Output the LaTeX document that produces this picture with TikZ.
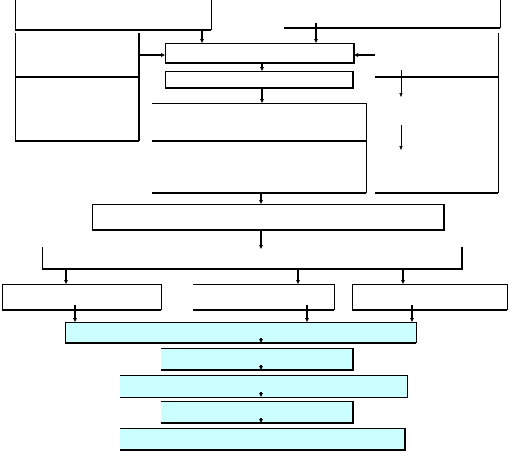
\documentclass[tikz,border=0pt]{standalone}
\usetikzlibrary{arrows.meta, fit}

\definecolor{paleCyan}{RGB}{204,255,255}

\tikzset{
  panel/.style={inner sep=0pt, outer sep=0pt},
  cyanpanel/.style={panel, fill=paleCyan},
  edge/.style={line width=0.6pt},
  heavy/.style={line width=1.5pt},
  arr/.style={line width=1.2pt, -{Triangle[length=4pt,width=3.5pt]}},
  thinarr/.style={line width=0.4pt, -{Triangle[length=4pt,width=3pt]}}
}

\begin{document}
\begin{tikzpicture}[x=1pt,y=-1pt]
\useasboundingbox (0,0) rectangle (509,451);

% upper part
\node [panel, fit={(15,-2) (211,30)}]   (tl) {};
\node [panel, fit={(284,-2) (500,28)}]  (tr) {};
\node [panel, fit={(15,33) (139,77)}]   (la) {};
\node [panel, fit={(15,77) (139,141)}]  (lb) {};
\node [panel, fit={(165,43) (354,63)}]  (A) {};
\node [panel, fit={(165,71) (353,88)}]  (B) {};
\node [panel, fit={(152,103) (366,141)}] (C1) {};
\node [panel, fit={(152,141) (366,193)}] (C2) {};
\node [panel, fit={(375,33) (498,77)}]  (D1) {};
\node [panel, fit={(375,77) (498,193)}] (D2) {};
\node [panel, fit={(92,204) (444,230)}] (E) {};
\node [panel, fit={(42,247) (462,269)}] (F) {};
\node [panel, fit={(2,284) (161,310)}]  (G1) {};
\node [panel, fit={(193,284) (334,310)}] (G2) {};
\node [panel, fit={(352,284) (507,310)}] (G3) {};

% lower part
\node [cyanpanel, fit={(65,322) (416,343)}]  (H) {};
\node [cyanpanel, fit={(161,348) (353,370)}] (I) {};
\node [cyanpanel, fit={(120,375) (407,397)}] (J) {};
\node [cyanpanel, fit={(161,401) (353,423)}] (K) {};
\node [cyanpanel, fit={(120,428) (405,450)}] (L) {};

% edges
\draw [edge]  (tl.north west) -- (tl.south west);
\draw [edge]  (tl.north east) -- (tl.south east);
\draw [heavy] (tl.south west) -- (tl.south east);
\draw [edge]  (tr.north east) -- (tr.south east);
\draw [heavy] (tr.south west) -- (tr.south east);
\draw [edge]  (la.north west) -- (lb.south west);
\draw [heavy] (la.north east) -- (lb.south east);
\draw [heavy] (la.south west) -- (la.south east);
\draw [heavy] (lb.south west) -- (lb.south east);
\draw [edge]  (A.south west) |- (A.north east);
\draw [heavy] (A.north east) |- (A.south west);
\draw [edge]  (B.south west) |- (B.north east);
\draw [heavy] (B.north east) |- (B.south west);
\draw [edge]  (C1.north west) -- (C1.north east) -- (C2.south east);
\draw [heavy] (C1.south west) -- (C1.south east);
\draw [heavy] (C2.south west) -- (C2.south east);
\draw [edge]  (D1.north east) -- (D2.south east);
\draw [heavy] (D1.south west) -- (D1.south east);
\draw [heavy] (D2.south west) -- (D2.south east);
\draw [edge]  (E.south west) |- (E.north east);
\draw [heavy] (E.north east) |- (E.south west);
\draw [edge]  (F.north west) -- (F.south west);
\draw [heavy] (F.north east) |- (F.south west);
\draw [edge]  (G1.south west) |- (G1.north east) -- (G1.south east);
\draw [heavy] (G1.south west) -- (G1.south east);
\draw [edge]  (G2.north west) -| (G2.south east);
\draw [heavy] (G2.south west) -- (G2.south east);
\draw [edge]  (G3.south west) |- (G3.north east) -- (G3.south east);
\draw [heavy] (G3.south west) -- (G3.south east);
\draw [edge]  (H.south west) |- (H.north east) -- (H.south east);
\draw [heavy] (H.south west) -- (H.south east);
\draw [edge]  (I.north west) -- (I.north east);
\draw [heavy] (I.north east) |- (I.south west);
\draw [edge]  (J.north west) -- (J.north east) |- (J.south west);
\draw [edge]  (K.north west) -- (K.north east);
\draw [heavy] (K.north east) |- (K.south west);
\draw [edge]  (L.north west) -- (L.north east);
\draw [heavy] (L.north east) |- (L.south west);

% connectors
\coordinate (p1) at (202,30);
\coordinate (p2) at (316,23);
\coordinate (p3) at (262,63);
\coordinate (p4) at (262,88);
\coordinate (p5) at (261,193);
\coordinate (p6) at (261,230);
\coordinate (q1) at (66,269);
\coordinate (q2) at (298,269);
\coordinate (q3) at (403,269);
\coordinate (r1) at (75,305);
\coordinate (r2) at (307,305);
\coordinate (r3) at (412,305);
\coordinate (s1) at (401,70);
\coordinate (s2) at (401,125);
\draw [arr] (p1) -- (p1 |- A.north);
\draw [arr] (p2) -- (p2 |- A.north);
\draw [arr] (la.east) -- (la.east -| A.west);
\draw [arr] (D1.west) -- (D1.west -| A.east);
\draw [arr] (p3) -- (p3 |- B.north);
\draw [arr] (p4) -- (p4 |- C1.north);
\draw [arr] (p5) -- (p5 |- E.north);
\draw [arr] (p6) -- ([yshift=-2pt]p6 |- F.north);
\draw [arr] (q1) -- (q1 |- G1.north);
\draw [arr] (q2) -- (q2 |- G2.north);
\draw [arr] (q3) -- (q3 |- G3.north);
\draw [arr] (r1) -- (r1 |- H.north);
\draw [arr] (r2) -- (r2 |- H.north);
\draw [arr] (r3) -- (r3 |- H.north);
\draw [thinarr] (s1) -- (401,97);
\draw [thinarr] (s2) -- (401,150);
\foreach \u/\v in {H/I, I/J, J/K, K/L}
  \draw [arr] ([yshift=5pt]\u.south -| p6) -- (\u.south -| p6 |- \v.north);
\end{tikzpicture}
\end{document}
